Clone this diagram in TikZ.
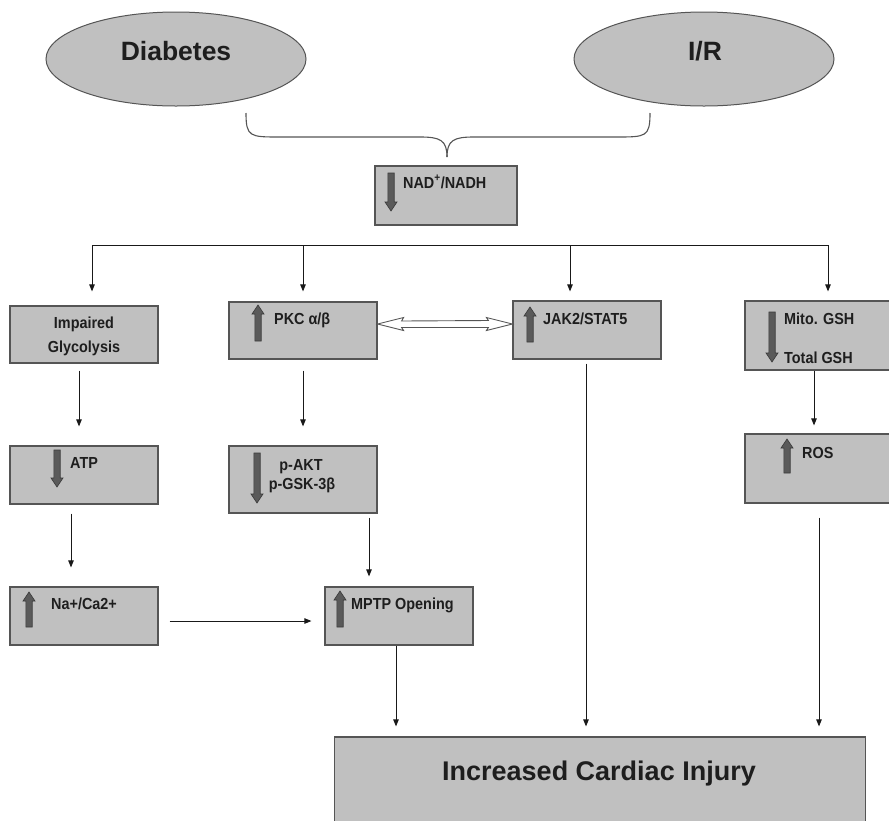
\documentclass[tikz,border=0pt]{standalone}
\usepackage{fontspec}
\setmainfont{Liberation Sans}
\newfontfamily\narrowsans{Liberation Sans}[FakeStretch=0.9]
\usetikzlibrary{shapes.geometric,arrows.meta,calc}
\definecolor{boxc}{HTML}{C0C0C0}
\definecolor{bordc}{HTML}{555555}
\definecolor{blkc}{HTML}{5A5A5A}
\definecolor{blkd}{HTML}{3A3A3A}
\definecolor{txtc}{HTML}{1E1E1E}
\newcommand\blkup[3]{\filldraw[blk] (#1-3.2,#2) -- (#1-3.2,#3+9) -- (#1-6,#3+9) -- (#1,#3) -- (#1+6,#3+9) -- (#1+3.2,#3+9) -- (#1+3.2,#2) -- cycle;}
\newcommand\blkdown[3]{\filldraw[blk] (#1-3.2,#2) -- (#1-3.2,#3-9) -- (#1-6,#3-9) -- (#1,#3) -- (#1+6,#3-9) -- (#1+3.2,#3-9) -- (#1+3.2,#2) -- cycle;}
\begin{document}
\begin{tikzpicture}[x=1pt,y=-1pt,
  box/.style={draw=bordc,fill=boxc,line width=1.2pt,inner sep=0pt,minimum width=148pt},
  oval/.style={ellipse,draw=bordc,fill=boxc,line width=1pt,inner sep=0pt,minimum width=260pt,minimum height=94pt},
  big/.style={text=txtc,font=\fontsize{26.5}{30}\selectfont\bfseries,inner sep=0pt,anchor=base},
  small/.style={text=txtc,font=\narrowsans\fontsize{16}{18}\selectfont\bfseries,inner sep=0pt,anchor=base west},
  smallc/.style={small,anchor=base},
  blk/.style={fill=blkc,draw=blkd,line width=0.6pt},
  conn/.style={draw=black!90,line width=0.9pt,-{Triangle[length=7pt,width=5.5pt]}},
  plain/.style={draw=black!90,line width=0.9pt}]
\useasboundingbox (0,0) rectangle (889,820);
\fill[white] (0,0) rectangle (889,820);

% top ovals
\node[oval] (dia) at (176,59) {};
\node[oval] (ir) at (704,59) {};
\node[big] (tdia) at (176,60) {Diabetes};
\node[big] (tir) at (705,60) {I/R};

% brace
\draw[draw=bordc,line width=1.1pt]
  (246,113) .. controls (246,137) and (250,137) .. (280,137) -- (420,137)
  .. controls (440,137) and (447,140) .. (447,157);
\draw[draw=bordc,line width=1.1pt]
  (650,113) .. controls (650,137) and (646,137) .. (616,137) -- (474,137)
  .. controls (454,137) and (447,140) .. (447,157);

% NAD box
\node[box,minimum width=142pt,minimum height=59pt] (nad) at (446,195.5) {};
\blkdown{391}{173}{211}
\node[small] (tnad) at (403,188) {NAD\textsuperscript{+}/NADH};

% distribution line
\coordinate (h1) at (92,245);
\coordinate (h2) at (303,245);
\coordinate (h3) at (570,245);
\coordinate (h4) at (828,245);
\draw[plain] (h1) -- (h4);

% row 1
\node[box,minimum height=57pt] (ig) at (84,334.5) {};
\node[smallc] (tig1) at (84,328) {Impaired};
\node[smallc] (tig2) at (84,352) {Glycolysis};

\node[box,minimum height=57pt] (pkc) at (303,330.5) {};
\blkup{258}{341}{305}
\node[small] (tpkc) at (274,324) {PKC α/β};

\node[box,minimum height=58pt] (jak) at (587,330) {};
\blkup{530}{342}{307}
\node[small] (tjak) at (543,324) {JAK2/STAT5};

\node[box,minimum height=69pt] (mito) at (819,335.5) {};
\blkdown{772}{312}{362}
\node[small] (tmito1) at (784,324) {Mito. GSH};
\node[small] (tmito2) at (784,363) {Total GSH};

% row 2
\node[box,minimum height=58pt] (atp) at (84,475) {};
\blkdown{57}{450}{487}
\node[small] (tatp) at (70,468) {ATP};

\node[box,minimum height=67pt] (pakt) at (303,479.5) {};
\blkdown{257}{453}{503}
\node[smallc] (tpakt1) at (301,470) {p-AKT};
\node[smallc] (tpakt2) at (302,489) {p-GSK-3β};

\node[box,minimum height=69pt] (ros) at (819,468.5) {};
\blkup{787}{473}{439}
\node[small] (tros) at (802,458) {ROS};

% row 3
\node[box,minimum height=58pt] (na) at (84,616) {};
\blkup{29}{627}{592}
\node[small] (tna) at (51,609) {Na+/Ca2+};

\node[box,minimum height=58pt] (mptp) at (399,616) {};
\blkup{340}{627}{591}
\node[small] (tmptp) at (351,609) {MPTP Opening};

% cardiac injury
\node[box,minimum width=531pt,minimum height=110pt] (card) at (600,792) {};
\node[big,font=\fontsize{27}{30}\selectfont\bfseries] (tcard) at (599,780) {Increased Cardiac Injury};

% connectors
\draw[conn,shorten >=14pt] (h1) -- (h1 |- ig.north);
\draw[conn,shorten >=10pt] (h2) -- (h2 |- pkc.north);
\draw[conn,shorten >=9pt] (h3) -- (h3 |- jak.north);
\draw[conn,shorten >=9pt] (h4) -- (h4 |- mito.north);

\draw[conn,shorten <=7pt,shorten >=19pt] ([xshift=-5pt]ig.south) -- ([xshift=-5pt]atp.north);
\draw[conn,shorten <=11pt,shorten >=19pt] (pkc.south) -- (pakt.north);
\draw[conn,shorten >=8pt] ([xshift=-5pt]mito.south) -- ([xshift=-5pt]ros.north);
\draw[conn,shorten <=9pt,shorten >=19pt] ([xshift=-13pt]atp.south) -- ([xshift=-13pt]na.north);
\draw[conn,shorten <=4pt,shorten >=10pt] ([xshift=66pt]pakt.south) -- ([xshift=-30pt]mptp.north);
\draw[conn,shorten <=11pt,shorten >=13pt] ([yshift=-5pt]na.east) -- ([yshift=-5pt]na.east -| mptp.west);
\draw[conn,shorten >=10pt] ([xshift=-3pt]mptp.south) -- ([xshift=-3pt]mptp.south |- card.north);
\draw[conn,shorten <=4pt,shorten >=10pt] ([xshift=-1pt]jak.south) -- ([xshift=-1pt]jak.south |- card.north);
\draw[conn,shorten <=14pt,shorten >=10pt] (ros.south) -- (ros.south |- card.north);

% double hollow arrow PKC <-> JAK
\coordinate (da1) at ([yshift=6.5pt]pkc.east);
\coordinate (da2) at (da1 -| jak.west);
\filldraw[fill=white,draw=bordc,line width=0.9pt,line join=miter]
  (da1) -- ++(26,-6.5) -- ++(-2,3.5) -- ($(da2)+(-24,-3.5)$) -- ++(-2,-3) -- (da2)
  -- ++(-26,6.5) -- ++(2,-3) -- ($(da1)+(24,3.5)$) -- ++(2,3) -- cycle;
\end{tikzpicture}
\end{document}
